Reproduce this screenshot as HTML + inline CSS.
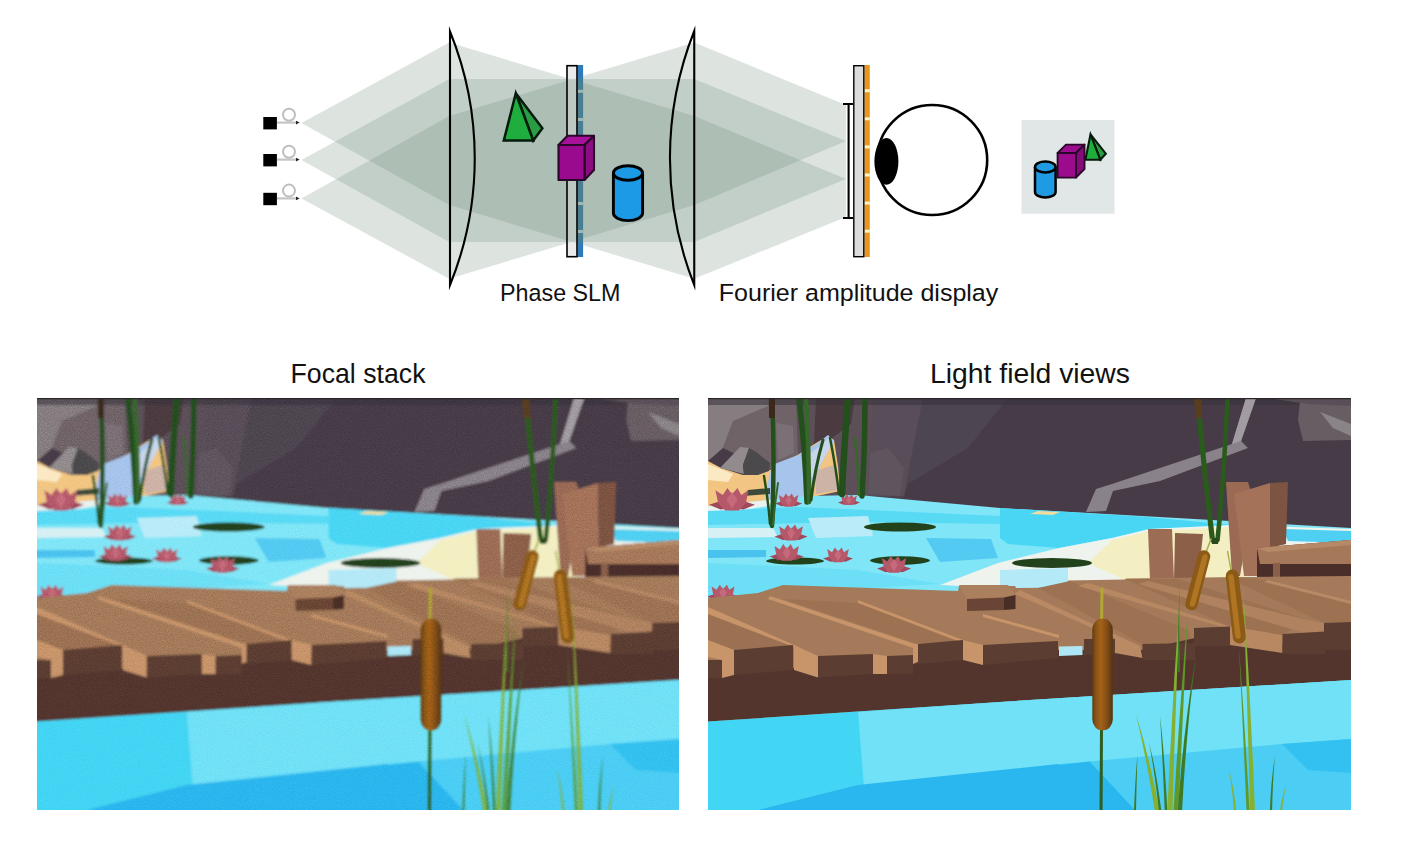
<!DOCTYPE html>
<html><head><meta charset="utf-8">
<style>
html,body{margin:0;padding:0;background:#fff;}
body{width:1404px;height:846px;position:relative;overflow:hidden;font-family:"Liberation Sans",sans-serif;}
svg{position:absolute;left:0;top:0;display:block;}
text{font-family:"Liberation Sans",sans-serif;fill:#111;}
</style></head><body>
<svg id="top" width="1404" height="846" viewBox="0 0 1404 846">
<!-- SLM fill -->
<rect x="577.5" y="65" width="5.6" height="192" fill="#2f7ab8"/>
<g fill="#e2f1fa">
<rect x="577.5" y="89.8" width="5.6" height="3"/><rect x="577.5" y="118" width="5.6" height="3"/><rect x="577.5" y="146" width="5.6" height="3"/>
<rect x="577.5" y="174" width="5.6" height="3"/><rect x="577.5" y="202" width="5.6" height="3"/><rect x="577.5" y="230" width="5.6" height="3"/>
</g>
<rect x="567" y="65.7" width="10" height="191" fill="#e2e2e2"/>
<!-- BEAMS -->
<g fill="rgb(101,132,114)" fill-opacity="0.22" stroke="none">
<polygon points="301.4,123 449.25,42.5 694.25,116 694.25,278.75 449.25,205"/>
<polygon points="301.4,160 449.25,79 694.25,79 694.25,242 449.25,242"/>
<polygon points="301.4,198.5 449.25,116 694.25,42.5 694.25,205 449.25,278.75"/>
<polygon points="694.25,42.5 846,105 846,141 694.25,205"/>
<polygon points="694.25,79 846,141 846,179 694.25,242"/>
<polygon points="694.25,116 846,179 846,217 694.25,278.75"/>
</g>
<!-- SOURCES -->
<g id="srcs">
<g id="src">
<rect x="263.3" y="117" width="13.6" height="12.4" fill="#000"/>
<path d="M277,122.6 H297" stroke="#c2c6c4" stroke-width="2.2" fill="none"/>
<ellipse cx="289" cy="114.8" rx="6" ry="6" stroke="#bcbfbd" stroke-width="2" fill="none"/>
<polygon points="296,120.8 299.6,122.6 296,124.4" fill="#222"/>
</g>
<use href="#src" y="37"/>
<use href="#src" y="75.8"/>
</g>
<!-- LENSES -->
<path d="M450,31.5 A337,337 0 0 1 450,285 Z" fill="none" stroke="#000" stroke-width="2.1" stroke-linejoin="miter" stroke-miterlimit="20"/>
<path d="M694.25,31 A344,344 0 0 0 694.25,285 Z" fill="none" stroke="#000" stroke-width="2.1" stroke-linejoin="miter" stroke-miterlimit="20"/>
<rect x="567" y="65.7" width="10" height="191" fill="#fff" fill-opacity="0.3" stroke="#000" stroke-width="1.6"/>
<!-- pyramid -->
<g stroke="#051c0c" stroke-width="2.5" stroke-linejoin="miter" stroke-miterlimit="6">
<polygon points="515.8,93.3 533.2,140.6 542.4,128.2" fill="#2a9c44"/>
<polygon points="515.8,93.3 503.8,140.6 533.2,140.6" fill="#1fae3e"/>
</g>
<!-- cube -->
<g stroke="#2a0628" stroke-width="2.1" stroke-linejoin="round">
<polygon points="558.5,145 567.5,135.8 594,135.8 584.5,145" fill="#a6109a"/>
<polygon points="584.5,145 594,135.8 594,170 584.5,180" fill="#8c0c82"/>
<rect x="558.5" y="145" width="26" height="35" fill="#9a0a8e"/>
</g>
<!-- cylinder -->
<g stroke="#000" stroke-width="2.9">
<path d="M613.4,173 V213.3 A14.6,7.3 0 0 0 642.6,213.3 V173" fill="#1c9ae6"/>
<ellipse cx="628" cy="173" rx="14.6" ry="7.3" fill="#1c9ae6"/>
</g>
<!-- DISPLAY -->
<rect x="864.4" y="65" width="5.4" height="192" fill="#e8961e"/>
<g fill="#fff6c4">
<rect x="864.4" y="89.2" width="5.4" height="3"/><rect x="864.4" y="117.3" width="5.4" height="3"/><rect x="864.4" y="145.4" width="5.4" height="3"/>
<rect x="864.4" y="173.5" width="5.4" height="3"/><rect x="864.4" y="201.6" width="5.4" height="3"/><rect x="864.4" y="229.7" width="5.4" height="3"/>
</g>
<rect x="853.8" y="65.7" width="10" height="191" fill="#dcdcdc" stroke="#000" stroke-width="1.4"/>
<path d="M843,104 H853 M843,218 H853 M848.6,104 V218" stroke="#000" stroke-width="2.1" fill="none"/>
<!-- EYE -->
<circle cx="932.2" cy="160" r="55" fill="#fff" stroke="#000" stroke-width="2.6"/>
<ellipse cx="886.4" cy="161.4" rx="12" ry="23.4" fill="#000"/>
<!-- RESULT BOX -->
<rect x="1021.5" y="120" width="93" height="93.7" fill="#e1e6e6"/>
<g stroke="#051c0c" stroke-width="2.1" stroke-linejoin="miter" stroke-miterlimit="6">
<polygon points="1090.5,134.4 1100.3,159.8 1105.8,153.7" fill="#2a9c44"/>
<polygon points="1090.5,134.4 1085.4,159.8 1100.3,159.8" fill="#1fae3e"/>
</g>
<g stroke="#2a0628" stroke-width="1.9" stroke-linejoin="round">
<polygon points="1057.6,153 1066,144.6 1084.5,144.6 1076,153" fill="#9c0c8e"/>
<polygon points="1076,153 1084.5,144.6 1084.5,169 1076,177.6" fill="#860a7a"/>
<rect x="1057.6" y="153" width="18.4" height="24.6" fill="#9c0a8e"/>
</g>
<g stroke="#000" stroke-width="2.5">
<path d="M1035,167 V192 A10.3,5.4 0 0 0 1055.6,192 V167" fill="#1e9be2"/>
<ellipse cx="1045.3" cy="167" rx="10.3" ry="5.4" fill="#1e9be2"/>
</g>
<!-- LABELS -->
<text x="500" y="301" font-size="24.5" textLength="120.5" lengthAdjust="spacingAndGlyphs">Phase SLM</text>
<text x="718.8" y="300.8" font-size="24.5" textLength="279.5" lengthAdjust="spacingAndGlyphs">Fourier amplitude display</text>
<text x="290.5" y="383.4" font-size="27.5" textLength="135" lengthAdjust="spacingAndGlyphs">Focal stack</text>
<text x="930" y="383" font-size="27.5" textLength="200" lengthAdjust="spacingAndGlyphs">Light field views</text>
</svg>
<svg width="1404" height="846" viewBox="0 0 1404 846">
<defs>
<linearGradient id="rockg" x1="0" x2="1" y1="0" y2="0"><stop offset="0" stop-color="#665a65"/><stop offset="0.55" stop-color="#62565f"/><stop offset="1" stop-color="#473c48"/></linearGradient>
<linearGradient id="catg" x1="0" x2="1" y1="0" y2="0"><stop offset="0" stop-color="#5e3c10"/><stop offset="0.18" stop-color="#8a5416"/><stop offset="0.42" stop-color="#a4621a"/><stop offset="0.68" stop-color="#875015"/><stop offset="1" stop-color="#553410"/></linearGradient>
<clipPath id="cp"><rect x="0" y="0" width="643" height="412"/></clipPath>
<filter id="b1" filterUnits="userSpaceOnUse" x="-12" y="-12" width="667" height="436"><feGaussianBlur stdDeviation="0.8"/><feComponentTransfer><feFuncA type="linear" slope="60" intercept="0"/></feComponentTransfer></filter>
<filter id="b2" filterUnits="userSpaceOnUse" x="-12" y="-12" width="667" height="446"><feGaussianBlur stdDeviation="1.3"/></filter>
<filter id="b3" filterUnits="userSpaceOnUse" x="-12" y="-12" width="667" height="436"><feGaussianBlur stdDeviation="0.55"/><feComponentTransfer><feFuncA type="linear" slope="60" intercept="0"/></feComponentTransfer></filter>
<filter id="nz" color-interpolation-filters="sRGB" filterUnits="userSpaceOnUse" x="0" y="0" width="643" height="412"><feTurbulence type="fractalNoise" baseFrequency="0.85" numOctaves="2" seed="7" result="t"/><feColorMatrix in="t" type="matrix" values="1.6 0 0 0 -0.3  1.6 0 0 0 -0.3  1.6 0 0 0 -0.3  0 0 0 0 1"/></filter>
<g id="bg"><rect x="0" y="0" width="643" height="140" fill="#463b46"/>
<polygon points="150,0 300,0 260,50 200,86 196,100 150,98" fill="#4e4450" />
<polygon points="155,0 215,0 205,50 196,98 155,98" fill="#584d58" />
<polygon points="160,55 180,50 196,70 192,98 160,96" fill="#5f545e" />
<polygon points="86,0 165,0 160,100 86,100" fill="#5c5058" />
<polygon points="108,0 147,0 143,26 124,40 106,47" fill="#4b3b40" />
<polygon points="60,0 88,0 90,58 60,72 15,50 25,22" fill="#6f6468" />
<polygon points="0,0 61,0 60,8 25,23 15,50 0,63" fill="#857d80" />
<polygon points="68,25 85,28 86,55 70,62" fill="#7a7074" />
<rect x="0" y="0" width="643" height="7" fill="#37313a" opacity="0.55"/>
<polygon points="538,0 548,0 533,43 540,50 452,83 405,93 398,113 378,114 388,91 407,85 524,46" fill="#8a828a" />
<polygon points="538,0 548,0 533,43 524,46" fill="#a29ca2" />
<polygon points="592,3 643,0 643,42 595,43 590,22" fill="#675d64" />
<polygon points="612,14 643,26 643,38 625,30" fill="#8a8488" />
<polygon points="560,0 643,0 643,8 600,6" fill="#5a5058" />
<polygon points="0,63 13,70 35,77 62,72 88,58 108,45 120,38 126,42 130,68 132,93 100,100 45,108 0,112" fill="#f2c682" />
<polygon points="0,66 13,71 25,76 20,84 0,82" fill="#fbe9c4" />
<polygon points="64,67 90,57 110,45 120,37 126,43 114,64 104,86 98,101 58,104 60,84" fill="#a6c4ec" />
<polygon points="96,60 112,48 120,40 125,45 114,64 104,80" fill="#c9d6ea" />
<polygon points="107,73 126,67 131,92 108,96" fill="#cdb2a6" />
<polygon points="12,70 32,49 41,50 35,67 36,76" fill="#918b8e" />
<polygon points="35,67 41,50 48,54 62,65 61,73 50,77 36,77" fill="#4c484b" />
<polygon points="40,92 62,90 62,96 35,98" fill="#3e4a3a" />
<polygon points="0,108 45,104 100,98 150,97 292,110 643,130 643,200 0,215" fill="#80e6f7" />
<polygon points="0,108 40,104 70,101 60,108 0,118" fill="#e8f2f0" />
<polygon points="0,113 90,109 160,112 292,118 292,126 150,124 0,127" fill="#58daf5" />
<polygon points="0,130 65,130 70,139 0,140" fill="#d6f0f4" />
<polygon points="100,120 160,118 165,138 108,140" fill="#b9ecf8" />
<polygon points="0,152 58,152 58,159 0,160" fill="#48c2ee" />
<polygon points="218,140 283,141 290,160 232,164" fill="#52caf2" />
<polygon points="0,165 70,168 150,172 232,186 50,196 0,200" fill="#6cdff6" />
<polygon points="292,110 440,119 524,127 440,131 404,140 351,150 300,146 292,140" fill="#48d6f4" />
<polygon points="232,187 290,165 351,150 404,140 442,131 524,127 643,131 643,190 292,190" fill="#eef3ee" />
<polygon points="404,142 442,133 524,129 560,150 540,182 417,182 380,165" fill="#f3efc2" />
<polygon points="292,172 360,170 360,190 292,192" fill="#b4e9f7" />
<polygon points="575,131 643,133 643,145 580,143" fill="#4fd0f2" />
<polygon points="330,113 352,114 345,117 322,116" fill="#f0dca0" />
<ellipse cx="192" cy="129" rx="36" ry="4.6" fill="#24431c" />
<ellipse cx="87" cy="163" rx="29" ry="3.4" fill="#24431c" />
<ellipse cx="192" cy="162.5" rx="30" ry="4.2" fill="#24431c" />
<ellipse cx="344" cy="165" rx="40" ry="5" fill="#24431c" />
<polygon points="1.0,106.8 15.7,102.0 24.0,110.0 12.5,111.6" fill="#a04a5c" /><polygon points="47.0,106.8 32.3,102.0 24.0,110.0 35.5,111.6" fill="#a04a5c" /><polygon points="10.2,105.2 7.4,92.3 14.8,97.1 19.4,89.9 24.0,96.3 29.5,89.9 33.2,97.1 40.6,92.3 37.8,105.2 30.9,112.4 17.1,112.4" fill="#b5586a" /><polygon points="18.5,101.2 24.0,93.9 29.5,101.2 24.0,110.8" fill="#c56a7c" />
<polygon points="67.1,105.5 75.7,102.6 80.6,107.4 73.8,108.3" fill="#a04a5c" /><polygon points="94.1,105.5 85.5,102.6 80.6,107.4 87.3,108.3" fill="#a04a5c" /><polygon points="72.5,104.5 70.9,97.0 75.2,99.8 77.9,95.5 80.6,99.3 83.8,95.5 86.0,99.8 90.3,97.0 88.7,104.5 84.6,108.8 76.5,108.8" fill="#b5586a" /><polygon points="77.4,102.2 80.6,97.9 83.8,102.2 80.6,107.8" fill="#c56a7c" />
<polygon points="130.0,104.4 137.0,102.1 141.0,105.9 135.5,106.7" fill="#a04a5c" /><polygon points="152.0,104.4 145.0,102.1 141.0,105.9 146.5,106.7" fill="#a04a5c" /><polygon points="134.4,103.6 133.1,97.5 136.6,99.8 138.8,96.3 141.0,99.4 143.6,96.3 145.4,99.8 148.9,97.5 147.6,103.6 144.3,107.1 137.7,107.1" fill="#b5586a" /><polygon points="138.4,101.7 141.0,98.2 143.6,101.7 141.0,106.3" fill="#c56a7c" />
<polygon points="66.5,138.6 77.1,135.1 83.0,140.9 74.8,142.0" fill="#a04a5c" /><polygon points="99.5,138.6 88.9,135.1 83.0,140.9 91.2,142.0" fill="#a04a5c" /><polygon points="73.1,137.4 71.1,128.2 76.4,131.6 79.7,126.5 83.0,131.1 87.0,126.5 89.6,131.6 94.9,128.2 92.9,137.4 88.0,142.6 78.0,142.6" fill="#b5586a" /><polygon points="79.0,134.5 83.0,129.3 87.0,134.5 83.0,141.5" fill="#c56a7c" />
<polygon points="61.7,158.6 72.6,155.0 78.7,161.0 70.2,162.2" fill="#a04a5c" /><polygon points="95.7,158.6 84.8,155.0 78.7,161.0 87.2,162.2" fill="#a04a5c" /><polygon points="68.5,157.4 66.5,147.9 71.9,151.5 75.3,146.1 78.7,150.9 82.8,146.1 85.5,151.5 90.9,147.9 88.9,157.4 83.8,162.8 73.6,162.8" fill="#b5586a" /><polygon points="74.6,154.4 78.7,149.1 82.8,154.4 78.7,161.6" fill="#c56a7c" />
<polygon points="115.0,160.5 124.6,157.4 130.0,162.6 122.5,163.7" fill="#a04a5c" /><polygon points="145.0,160.5 135.4,157.4 130.0,162.6 137.5,163.7" fill="#a04a5c" /><polygon points="121.0,159.5 119.2,151.1 124.0,154.2 127.0,149.5 130.0,153.7 133.6,149.5 136.0,154.2 140.8,151.1 139.0,159.5 134.5,164.2 125.5,164.2" fill="#b5586a" /><polygon points="126.4,156.8 130.0,152.1 133.6,156.8 130.0,163.2" fill="#c56a7c" />
<polygon points="169.0,170.6 179.9,167.0 186.0,173.0 177.5,174.2" fill="#a04a5c" /><polygon points="203.0,170.6 192.1,167.0 186.0,173.0 194.5,174.2" fill="#a04a5c" /><polygon points="175.8,169.4 173.8,159.9 179.2,163.5 182.6,158.1 186.0,162.9 190.1,158.1 192.8,163.5 198.2,159.9 196.2,169.4 191.1,174.8 180.9,174.8" fill="#b5586a" /><polygon points="181.9,166.4 186.0,161.1 190.1,166.4 186.0,173.6" fill="#c56a7c" />
<polygon points="-1.0,198.6 9.2,195.2 15.0,200.8 7.0,201.9" fill="#a04a5c" /><polygon points="31.0,198.6 20.8,195.2 15.0,200.8 23.0,201.9" fill="#a04a5c" /><polygon points="5.4,197.4 3.5,188.5 8.6,191.8 11.8,186.8 15.0,191.3 18.8,186.8 21.4,191.8 26.5,188.5 24.6,197.4 19.8,202.5 10.2,202.5" fill="#b5586a" /><polygon points="11.2,194.6 15.0,189.6 18.8,194.6 15.0,201.4" fill="#c56a7c" />
<path d="M64,0 Q67,60 64,128" stroke="#24501c" stroke-width="4.5" fill="none" stroke-linecap="round" />
<path d="M56,78 Q60,100 62,126" stroke="#24501c" stroke-width="2.5" fill="none" stroke-linecap="round" />
<path d="M70,85 Q67,105 65,127" stroke="#34682a" stroke-width="2" fill="none" stroke-linecap="round" />
<polygon points="61,0 67,0 67,20 61,20" fill="#3a2a1c" />
<path d="M91,0 Q97,50 99,104" stroke="#24501c" stroke-width="5.5" fill="none" stroke-linecap="round" />
<path d="M98,0 Q101,50 101,104" stroke="#34682a" stroke-width="4.5" fill="none" stroke-linecap="round" />
<path d="M115,42 Q107,70 103,102" stroke="#24501c" stroke-width="3" fill="none" stroke-linecap="round" />
<path d="M140,0 Q136,50 134,96" stroke="#24501c" stroke-width="6.5" fill="none" stroke-linecap="round" />
<path d="M157,0 Q157,50 154,98" stroke="#24501c" stroke-width="5.5" fill="none" stroke-linecap="round" />
<path d="M122,40 Q128,70 131,96" stroke="#24501c" stroke-width="2.5" fill="none" stroke-linecap="round" />
<path d="M147,40 Q150,70 151,97" stroke="#34682a" stroke-width="2.5" fill="none" stroke-linecap="round" />
<polygon points="440,131 464,131 466,183 442,183" fill="#9c6c54" />
<polygon points="467,135 495,136 490,183 466,183" fill="#8c5e4a" />
<polygon points="518,84 540,84 545,100 532,178 524,178" fill="#9a6a54" />
<polygon points="526,96 562,85 562,178 536,178" fill="#a47258" />
<polygon points="562,85 580,84 578,146 562,150" fill="#7d5242" />
<polygon points="549,150 643,142 643,200 549,200" fill="#4a2f2a" />
<polygon points="549,150 643,142 643,166 552,166" fill="#a6785a" />
<polygon points="549,150 643,142 643,147 560,154" fill="#b68a68" />
<polygon points="565,165 572,165 572,181 565,181" fill="#8a5e48" />
<polygon points="0,200 50,195 75,187 250,193 251,188 307,188 308,190 359.5,189.5 360,182.5 417,181.5 418,180.5 532,179 643,178 643,290 0,330" fill="#a47a5a" />
<polygon points="330,190 362,183 480,232 486,248 434,246" fill="#9c7252" />
<polygon points="417,181 470,181 600,222 574,237 522,229" fill="#9c7252" />
<polygon points="520,180 560,182 643,205 643,224 616,225" fill="#9c7252" />
<polygon points="150,205 255,245 210,246 75,201" fill="#9c7252" />
<polygon points="0,216 86,249 26,252 0,242" fill="#9c7152" />
<polygon points="0,270 110,270 210,258 351,252 434,252 487,240 522,240 574,246 643,240 643,282 292,304 0,323.5" fill="#52362e" />
<polygon points="0,209 85,246.5 110,258 110,279.5 86,272 86,249 0,216" fill="#c8946a" />
<polygon points="62,198 207,246 210,246 210,264 205,266 205,250 60,201" fill="#c8946a" />
<polygon points="165,256 179,258 179,276 165,276" fill="#c8946a" />
<polygon points="150,202 255,242 275,247 275,267 255,262 255,245 150,205" fill="#c8946a" />
<polygon points="275,216 351,237 351,240 275,219" fill="#c8946a" />
<polygon points="312,192 432,248 434.5,260 407,255 407,240 307,196" fill="#b98a64" />
<polygon points="0,242 26,252 26,277 14,280 14,262 0,259" fill="#c8946a" />
<polygon points="380,185 522,228.5 574.5,237 574.5,255 522,247 522,231 370,188" fill="#b88862" />
<polygon points="440,183 600,222 616,225 616,250 600,236 430,186" fill="#b08260" />
<polygon points="560,182 643,203 643,206 556,184" fill="#b88a66" />
<polygon points="0,262 14,262 14,280 0,280" fill="#5c3d31" />
<polygon points="26,252 85,247 85,272 26,277" fill="#5c3d31" />
<polygon points="110,258 165,256 165,276 110,279.5" fill="#5c3d31" />
<polygon points="179,258 205,257 205,276 179,276" fill="#5c3d31" />
<polygon points="210,246 255,242 255,262 210,266" fill="#5c3d31" />
<polygon points="275,247 350,243 350,260 275,267" fill="#5c3d31" />
<polygon points="376,241 407,241 407,256 376,257" fill="#5c3d31" />
<polygon points="434.5,246 487,245 487,262 434.5,262" fill="#5c3d31" />
<polygon points="486,230 522,228.5 522,248 486,248" fill="#5c3d31" />
<polygon points="574.5,236 617,233.5 617,256 574.5,256" fill="#5c3d31" />
<polygon points="616,225 643,224 643,252 616,252" fill="#5c3d31" />
<polygon points="351,248.5 374.5,248 374.5,257 351,258" fill="#aee6f6" />
<polygon points="251,187 300,187 307.5,197 296,199.5 259,201" fill="#ab805e" />
<polygon points="259,201 296,199.5 296,212 259,213" fill="#6a4434" />
<polygon points="296,199.5 307.5,197 307.5,211 296,212" fill="#4a2e26" />
<polygon points="0,323.5 292,304 643,282 643,412 0,412" fill="#43d5f4" />
<polygon points="150,314 292,304 643,282 643,345 574,347 430,360 351,366 156,390" fill="#6fe1f7" />
<polygon points="50,412 150,387 351,366 351,412" fill="#2ab6ee" />
<polygon points="292,373.5 382,363.5 427,412 292,412" fill="#2ab6ee" />
<polygon points="427,412 382,363.5 574,346 643,341 643,412" fill="#4ccdf4" />
<polygon points="574,346 643,341 643,375 600,372" fill="#33c1f0" /></g>
<g id="reed"><path d="M489.5,0 Q497,80 504.5,142" stroke="#2c5a1e" stroke-width="5.2" fill="none" stroke-linecap="round" />
<path d="M519.5,0 Q516,80 509.5,142" stroke="#2c5a1e" stroke-width="4.6" fill="none" stroke-linecap="round" />
<polygon points="486,0 493,0 494,20 488,20" fill="#5a3e1c" />
<polygon points="503,140 511,140 510,146 504,146" fill="#2c4a1e" /></g>
<g id="fg"><path d="M459.5,424.0 L459.5,412.0 Q464.2,300.0 472.5,190.0 Q467.8,300.0 464.5,412.0 L464.5,424.0 Z" fill="#86b032"/>
<path d="M465.6,424.0 L465.6,412.0 Q472.3,300.0 480.0,212.0 Q475.7,300.0 470.4,412.0 L470.4,424.0 Z" fill="#5f982c"/>
<path d="M469.9,424.0 L469.9,412.0 Q475.5,330.0 488.0,258.0 Q478.5,330.0 474.1,412.0 L474.1,424.0 Z" fill="#3c7a26"/>
<path d="M456.7,424.0 L456.7,412.0 Q454.1,350.0 452.0,318.0 Q455.9,350.0 459.3,412.0 L459.3,424.0 Z" fill="#3c7a26"/>
<path d="M446.7,424.0 L446.7,412.0 Q438.4,360.0 428.0,316.0 Q441.6,360.0 451.3,412.0 L451.3,424.0 Z" fill="#86b032"/>
<path d="M450.8,424.0 L450.8,412.0 Q446.2,370.0 441.0,345.0 Q447.8,370.0 453.2,412.0 L453.2,424.0 Z" fill="#3c7a26"/>
<path d="M426.0,424.0 L426.0,412.0 Q427.3,380.0 429.5,356.0 Q428.7,380.0 428.0,412.0 L428.0,424.0 Z" fill="#3c7a26"/>
<path d="M542.1,424.0 L542.1,412.0 Q539.3,300.0 535.0,186.0 Q542.7,300.0 546.9,412.0 L546.9,424.0 Z" fill="#86b032"/>
<path d="M538.5,424.0 L538.5,412.0 Q535.0,330.0 531.0,250.0 Q537.0,330.0 541.5,412.0 L541.5,424.0 Z" fill="#5f982c"/>
<path d="M561.9,424.0 L561.9,412.0 Q563.2,380.0 567.0,358.0 Q564.8,380.0 564.1,412.0 L564.1,424.0 Z" fill="#3c7a26"/>
<path d="M525.9,424.0 L525.9,412.0 Q524.2,390.0 521.0,371.0 Q525.8,390.0 528.1,412.0 L528.1,424.0 Z" fill="#86b032"/>
<path d="M572.0,424.0 L572.0,412.0 Q574.3,400.0 578.0,386.0 Q575.7,400.0 574.0,412.0 L574.0,424.0 Z" fill="#86b032"/>
<path d="M470.1,274.0 L470.1,262.0 Q469.4,230.0 472.0,186.0 Q470.6,230.0 471.9,262.0 L471.9,274.0 Z" fill="#3c7a26"/></g>
<g id="fgc"><path d="M394,191 L393.6,222" stroke="#b0a832" stroke-width="3" fill="none" stroke-linecap="round" />
<path d="M393.5,330 L393,425" stroke="#2f5e22" stroke-width="3" fill="none" stroke-linecap="round" />
<path d="M503,141 L498.5,153" stroke="#a8b050" stroke-width="1.6" fill="none" stroke-linecap="round" />
<path d="M519.6,153.5 L523,172" stroke="#a8b050" stroke-width="1.4" fill="none" stroke-linecap="round" />
<path d="M496,158.5 L483.5,206" stroke="#8a5a18" stroke-width="12.5" fill="none" stroke-linecap="round" />
<path d="M497,159 L484.5,206" stroke="#b07422" stroke-width="5.5" fill="none" stroke-linecap="round" />
<path d="M524.2,178 L531.3,239" stroke="#8a5a18" stroke-width="13" fill="none" stroke-linecap="round" />
<path d="M523,179 L530,238" stroke="#b07422" stroke-width="5.5" fill="none" stroke-linecap="round" />
<rect x="384.3" y="220.8" width="20.5" height="111.5" rx="9.5" ry="11" fill="url(#catg)"/></g>
</defs>
<g transform="translate(37,398) scale(0.9985,1)" clip-path="url(#cp)">
<g filter="url(#b1)"><use href="#bg"/><use href="#reed"/></g>
<g filter="url(#b2)" opacity="0.85"><use href="#fg"/></g>
<g filter="url(#b2)"><use href="#fgc"/></g>
<rect x="0" y="0" width="643" height="412" filter="url(#nz)" opacity="0.13" style="mix-blend-mode:overlay"/>
<rect x="0" y="0" width="643" height="1.2" fill="#2a2628"/>
</g>
<g transform="translate(708,398)" clip-path="url(#cp)">
<g filter="url(#b3)"><use href="#bg"/><use href="#reed"/><use href="#fg"/><use href="#fgc"/></g>
<rect x="0" y="0" width="643" height="1.2" fill="#2a2628"/>
</g>
</svg>
</body></html>
